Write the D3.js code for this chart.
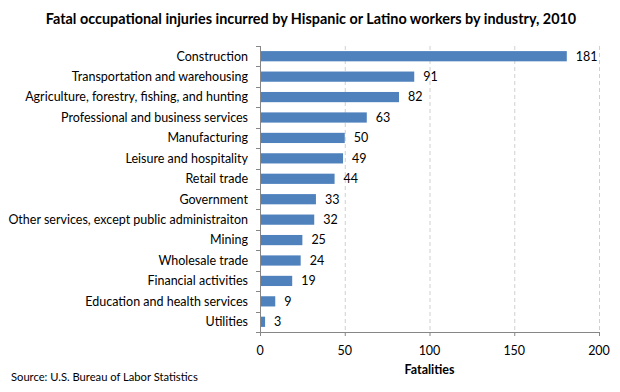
<!DOCTYPE html>
<html><head><meta charset="utf-8">
<script src="https://cdn.jsdelivr.net/npm/d3@7"></script>
<style>body{margin:0;background:#fff}text{font-family:Lato,"Open Sans",sans-serif}</style>
</head><body>
<svg id="c" width="620" height="392"></svg>
<script>
const categories = ["Construction","Transportation and warehousing","Agriculture, forestry, fishing, and hunting","Professional and business services","Manufacturing","Leisure and hospitality","Retail trade","Government","Other services, except public administraiton","Mining","Wholesale trade","Financial activities","Education and health services","Utilities"];
const values = [181,91,82,63,50,49,44,33,32,25,24,19,9,3];
const xTicks = [0,50,100,150,200];
const title = "Fatal occupational injuries incurred by Hispanic or Latino workers by industry, 2010";
const xTitle = "Fatalities";
const source = "Source: U.S. Bureau of Labor Statistics";

const svg = d3.select("#c");
const L=260,R=599,T=46,B=332;
const x = d3.scaleLinear().domain([0,200]).range([L,R]);
const y = d3.scaleBand().domain(categories).range([T,B]).paddingInner(0.5).paddingOuter(0.25);
const yb = d3.scaleBand().domain(categories).range([T,B]);
const axisCol="#868686";

svg.append("g").selectAll("line").data(xTicks.filter(d=>d>0)).join("line")
 .attr("x1",d=>x(d)+0.5).attr("x2",d=>x(d)+0.5).attr("y1",T).attr("y2",B)
 .attr("stroke","#d0d0d0").attr("stroke-dasharray","4,3");

svg.append("g").selectAll("rect").data(values).join("rect")
 .attr("x",x(0)).attr("y",(d,i)=>y(categories[i])).attr("width",d=>x(d)-x(0)).attr("height",y.bandwidth())
 .attr("fill","#4F81BD");

svg.append("g").selectAll("text").data(values).join("text")
 .attr("x",d=>x(d)+9).attr("y",(d,i)=>y(categories[i])+y.bandwidth()/2).attr("dy","0.35em")
 .attr("font-size",12.5).attr("fill","#000").text(d=>d);

const gy = svg.append("g");
gy.append("line").attr("x1",L+0.5).attr("x2",L+0.5).attr("y1",T).attr("y2",B).attr("stroke",axisCol);
const bounds = categories.map(c=>yb(c)).concat([B]);
gy.selectAll("line.t").data(bounds).join("line").attr("class","t")
 .attr("x1",L-4).attr("x2",L).attr("y1",d=>Math.round(d)+0.5).attr("y2",d=>Math.round(d)+0.5).attr("stroke",axisCol);
gy.selectAll("text").data(categories).join("text")
 .attr("x",248).attr("y",d=>yb(d)+yb.bandwidth()/2).attr("dy","0.35em").attr("text-anchor","end")
 .attr("font-size",12.5).attr("fill","#000").text(d=>d);

const gx = svg.append("g");
gx.append("line").attr("x1",L).attr("x2",R+1).attr("y1",B+0.5).attr("y2",B+0.5).attr("stroke",axisCol);
gx.selectAll("line.t").data(xTicks).join("line").attr("class","t")
 .attr("x1",d=>x(d)+0.5).attr("x2",d=>x(d)+0.5).attr("y1",B).attr("y2",B+4).attr("stroke",axisCol);
gx.selectAll("text").data(xTicks).join("text")
 .attr("x",d=>x(d)).attr("y",355).attr("text-anchor","middle").attr("font-size",12.5).attr("fill","#000").text(d=>d);

svg.append("text").attr("x",(L+R)/2).attr("y",374).attr("text-anchor","middle")
 .attr("font-size",12.5).attr("font-weight","bold").text(xTitle);
svg.append("text").attr("x",311).attr("y",24).attr("text-anchor","middle")
 .attr("font-size",14.4).attr("font-weight","bold").text(title);
svg.append("text").attr("x",11).attr("y",381).attr("font-size",11.2).text(source);
</script>
</body></html>
